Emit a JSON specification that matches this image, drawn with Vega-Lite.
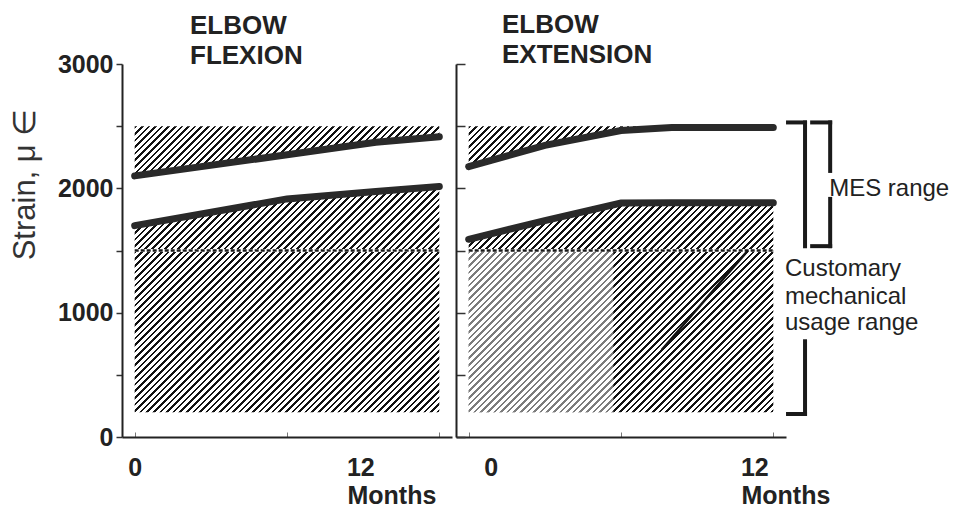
{
  "$schema": "https://vega.github.io/schema/vega-lite/v6.json",
  "padding": {"left": 8, "top": 12, "right": 0, "bottom": 0},
  "spacing": 0,
  "config": {
    "font": "Liberation Sans",
    "view": {"stroke": null}
  },
  "datasets": {
    "band": [{"from": 0, "to": 12, "low": 200, "high": 2500}],
    "threshold": [{"from": 0, "to": 12, "level": 1500}],
    "flexion": [
      {"month": 0, "lower": 1700, "upper": 2100},
      {"month": 6, "lower": 1915, "upper": 2270},
      {"month": 9.5, "lower": 1975, "upper": 2370},
      {"month": 12, "lower": 2015, "upper": 2415}
    ],
    "extension": [
      {"month": 0, "lower": 1590, "upper": 2175},
      {"month": 3, "lower": 1740, "upper": 2345},
      {"month": 6, "lower": 1882, "upper": 2465},
      {"month": 8, "lower": 1884, "upper": 2490},
      {"month": 12, "lower": 1884, "upper": 2490}
    ],
    "faded": [{"from": 0, "to": 5.7, "low": 200, "high": 1500}],
    "streak": [{"month": 7.6, "strain": 700}, {"month": 11.0, "strain": 1500}],
    "brackets": [
      {"x": 12.58, "x2": 13.25, "y": 2530, "y2": 2530},
      {"x": 13.25, "x2": 13.25, "y": 2530, "y2": 1535},
      {"x": 13.25, "x2": 13.25, "y": 770, "y2": 185},
      {"x": 12.58, "x2": 13.25, "y": 185, "y2": 185},
      {"x": 13.53, "x2": 14.24, "y": 2530, "y2": 2530},
      {"x": 14.24, "x2": 14.24, "y": 2530, "y2": 2140},
      {"x": 14.24, "x2": 14.24, "y": 1915, "y2": 1535},
      {"x": 13.53, "x2": 14.24, "y": 1535, "y2": 1535}
    ],
    "notes": [
      {"label": "MES range", "month": 14.2, "strain": 1940},
      {"label": "Customary", "month": 12.46, "strain": 1295},
      {"label": "mechanical", "month": 12.46, "strain": 1070},
      {"label": "usage range", "month": 12.46, "strain": 861}
    ]
  },
  "hconcat": [
    {
      "width": 330,
      "height": 373,
      "title": {"text": ["ELBOW", "FLEXION"], "anchor": "start", "frame": "group", "dx": 68, "fontSize": 26, "fontWeight": "bold", "color": "#222", "lineHeight": 30, "offset": -17},
      "layer": [
        {
          "data": {"name": "band"},
          "mark": {"type": "rect", "fill": {
          "gradient": "linear", "x1": 0, "y1": 0, "x2": 1.1516, "y2": 1.0813,
          "stops": [
{"offset":0,"color":"#111"},{"offset":0.004,"color":"#111"},{"offset":0.004,"color":"#fff"},{"offset":0.01,"color":"#fff"},
{"offset":0.01,"color":"#111"},{"offset":0.014,"color":"#111"},{"offset":0.014,"color":"#fff"},{"offset":0.02,"color":"#fff"},
{"offset":0.02,"color":"#111"},{"offset":0.024,"color":"#111"},{"offset":0.024,"color":"#fff"},{"offset":0.03,"color":"#fff"},
{"offset":0.03,"color":"#111"},{"offset":0.034,"color":"#111"},{"offset":0.034,"color":"#fff"},{"offset":0.04,"color":"#fff"},
{"offset":0.04,"color":"#111"},{"offset":0.044,"color":"#111"},{"offset":0.044,"color":"#fff"},{"offset":0.05,"color":"#fff"},
{"offset":0.05,"color":"#111"},{"offset":0.054,"color":"#111"},{"offset":0.054,"color":"#fff"},{"offset":0.06,"color":"#fff"},
{"offset":0.06,"color":"#111"},{"offset":0.064,"color":"#111"},{"offset":0.064,"color":"#fff"},{"offset":0.07,"color":"#fff"},
{"offset":0.07,"color":"#111"},{"offset":0.074,"color":"#111"},{"offset":0.074,"color":"#fff"},{"offset":0.08,"color":"#fff"},
{"offset":0.08,"color":"#111"},{"offset":0.084,"color":"#111"},{"offset":0.084,"color":"#fff"},{"offset":0.09,"color":"#fff"},
{"offset":0.09,"color":"#111"},{"offset":0.094,"color":"#111"},{"offset":0.094,"color":"#fff"},{"offset":0.1,"color":"#fff"},
{"offset":0.1,"color":"#111"},{"offset":0.104,"color":"#111"},{"offset":0.104,"color":"#fff"},{"offset":0.11,"color":"#fff"},
{"offset":0.11,"color":"#111"},{"offset":0.114,"color":"#111"},{"offset":0.114,"color":"#fff"},{"offset":0.12,"color":"#fff"},
{"offset":0.12,"color":"#111"},{"offset":0.124,"color":"#111"},{"offset":0.124,"color":"#fff"},{"offset":0.13,"color":"#fff"},
{"offset":0.13,"color":"#111"},{"offset":0.134,"color":"#111"},{"offset":0.134,"color":"#fff"},{"offset":0.14,"color":"#fff"},
{"offset":0.14,"color":"#111"},{"offset":0.144,"color":"#111"},{"offset":0.144,"color":"#fff"},{"offset":0.15,"color":"#fff"},
{"offset":0.15,"color":"#111"},{"offset":0.154,"color":"#111"},{"offset":0.154,"color":"#fff"},{"offset":0.16,"color":"#fff"},
{"offset":0.16,"color":"#111"},{"offset":0.164,"color":"#111"},{"offset":0.164,"color":"#fff"},{"offset":0.17,"color":"#fff"},
{"offset":0.17,"color":"#111"},{"offset":0.174,"color":"#111"},{"offset":0.174,"color":"#fff"},{"offset":0.18,"color":"#fff"},
{"offset":0.18,"color":"#111"},{"offset":0.184,"color":"#111"},{"offset":0.184,"color":"#fff"},{"offset":0.19,"color":"#fff"},
{"offset":0.19,"color":"#111"},{"offset":0.194,"color":"#111"},{"offset":0.194,"color":"#fff"},{"offset":0.2,"color":"#fff"},
{"offset":0.2,"color":"#111"},{"offset":0.204,"color":"#111"},{"offset":0.204,"color":"#fff"},{"offset":0.21,"color":"#fff"},
{"offset":0.21,"color":"#111"},{"offset":0.214,"color":"#111"},{"offset":0.214,"color":"#fff"},{"offset":0.22,"color":"#fff"},
{"offset":0.22,"color":"#111"},{"offset":0.224,"color":"#111"},{"offset":0.224,"color":"#fff"},{"offset":0.23,"color":"#fff"},
{"offset":0.23,"color":"#111"},{"offset":0.234,"color":"#111"},{"offset":0.234,"color":"#fff"},{"offset":0.24,"color":"#fff"},
{"offset":0.24,"color":"#111"},{"offset":0.244,"color":"#111"},{"offset":0.244,"color":"#fff"},{"offset":0.25,"color":"#fff"},
{"offset":0.25,"color":"#111"},{"offset":0.254,"color":"#111"},{"offset":0.254,"color":"#fff"},{"offset":0.26,"color":"#fff"},
{"offset":0.26,"color":"#111"},{"offset":0.264,"color":"#111"},{"offset":0.264,"color":"#fff"},{"offset":0.27,"color":"#fff"},
{"offset":0.27,"color":"#111"},{"offset":0.274,"color":"#111"},{"offset":0.274,"color":"#fff"},{"offset":0.28,"color":"#fff"},
{"offset":0.28,"color":"#111"},{"offset":0.284,"color":"#111"},{"offset":0.284,"color":"#fff"},{"offset":0.29,"color":"#fff"},
{"offset":0.29,"color":"#111"},{"offset":0.294,"color":"#111"},{"offset":0.294,"color":"#fff"},{"offset":0.3,"color":"#fff"},
{"offset":0.3,"color":"#111"},{"offset":0.304,"color":"#111"},{"offset":0.304,"color":"#fff"},{"offset":0.31,"color":"#fff"},
{"offset":0.31,"color":"#111"},{"offset":0.314,"color":"#111"},{"offset":0.314,"color":"#fff"},{"offset":0.32,"color":"#fff"},
{"offset":0.32,"color":"#111"},{"offset":0.324,"color":"#111"},{"offset":0.324,"color":"#fff"},{"offset":0.33,"color":"#fff"},
{"offset":0.33,"color":"#111"},{"offset":0.334,"color":"#111"},{"offset":0.334,"color":"#fff"},{"offset":0.34,"color":"#fff"},
{"offset":0.34,"color":"#111"},{"offset":0.344,"color":"#111"},{"offset":0.344,"color":"#fff"},{"offset":0.35,"color":"#fff"},
{"offset":0.35,"color":"#111"},{"offset":0.354,"color":"#111"},{"offset":0.354,"color":"#fff"},{"offset":0.36,"color":"#fff"},
{"offset":0.36,"color":"#111"},{"offset":0.364,"color":"#111"},{"offset":0.364,"color":"#fff"},{"offset":0.37,"color":"#fff"},
{"offset":0.37,"color":"#111"},{"offset":0.374,"color":"#111"},{"offset":0.374,"color":"#fff"},{"offset":0.38,"color":"#fff"},
{"offset":0.38,"color":"#111"},{"offset":0.384,"color":"#111"},{"offset":0.384,"color":"#fff"},{"offset":0.39,"color":"#fff"},
{"offset":0.39,"color":"#111"},{"offset":0.394,"color":"#111"},{"offset":0.394,"color":"#fff"},{"offset":0.4,"color":"#fff"},
{"offset":0.4,"color":"#111"},{"offset":0.404,"color":"#111"},{"offset":0.404,"color":"#fff"},{"offset":0.41,"color":"#fff"},
{"offset":0.41,"color":"#111"},{"offset":0.414,"color":"#111"},{"offset":0.414,"color":"#fff"},{"offset":0.42,"color":"#fff"},
{"offset":0.42,"color":"#111"},{"offset":0.424,"color":"#111"},{"offset":0.424,"color":"#fff"},{"offset":0.43,"color":"#fff"},
{"offset":0.43,"color":"#111"},{"offset":0.434,"color":"#111"},{"offset":0.434,"color":"#fff"},{"offset":0.44,"color":"#fff"},
{"offset":0.44,"color":"#111"},{"offset":0.444,"color":"#111"},{"offset":0.444,"color":"#fff"},{"offset":0.45,"color":"#fff"},
{"offset":0.45,"color":"#111"},{"offset":0.454,"color":"#111"},{"offset":0.454,"color":"#fff"},{"offset":0.46,"color":"#fff"},
{"offset":0.46,"color":"#111"},{"offset":0.464,"color":"#111"},{"offset":0.464,"color":"#fff"},{"offset":0.47,"color":"#fff"},
{"offset":0.47,"color":"#111"},{"offset":0.474,"color":"#111"},{"offset":0.474,"color":"#fff"},{"offset":0.48,"color":"#fff"},
{"offset":0.48,"color":"#111"},{"offset":0.484,"color":"#111"},{"offset":0.484,"color":"#fff"},{"offset":0.49,"color":"#fff"},
{"offset":0.49,"color":"#111"},{"offset":0.494,"color":"#111"},{"offset":0.494,"color":"#fff"},{"offset":0.5,"color":"#fff"},
{"offset":0.5,"color":"#111"},{"offset":0.504,"color":"#111"},{"offset":0.504,"color":"#fff"},{"offset":0.51,"color":"#fff"},
{"offset":0.51,"color":"#111"},{"offset":0.514,"color":"#111"},{"offset":0.514,"color":"#fff"},{"offset":0.52,"color":"#fff"},
{"offset":0.52,"color":"#111"},{"offset":0.524,"color":"#111"},{"offset":0.524,"color":"#fff"},{"offset":0.53,"color":"#fff"},
{"offset":0.53,"color":"#111"},{"offset":0.534,"color":"#111"},{"offset":0.534,"color":"#fff"},{"offset":0.54,"color":"#fff"},
{"offset":0.54,"color":"#111"},{"offset":0.544,"color":"#111"},{"offset":0.544,"color":"#fff"},{"offset":0.55,"color":"#fff"},
{"offset":0.55,"color":"#111"},{"offset":0.554,"color":"#111"},{"offset":0.554,"color":"#fff"},{"offset":0.56,"color":"#fff"},
{"offset":0.56,"color":"#111"},{"offset":0.564,"color":"#111"},{"offset":0.564,"color":"#fff"},{"offset":0.57,"color":"#fff"},
{"offset":0.57,"color":"#111"},{"offset":0.574,"color":"#111"},{"offset":0.574,"color":"#fff"},{"offset":0.58,"color":"#fff"},
{"offset":0.58,"color":"#111"},{"offset":0.584,"color":"#111"},{"offset":0.584,"color":"#fff"},{"offset":0.59,"color":"#fff"},
{"offset":0.59,"color":"#111"},{"offset":0.594,"color":"#111"},{"offset":0.594,"color":"#fff"},{"offset":0.6,"color":"#fff"},
{"offset":0.6,"color":"#111"},{"offset":0.604,"color":"#111"},{"offset":0.604,"color":"#fff"},{"offset":0.61,"color":"#fff"},
{"offset":0.61,"color":"#111"},{"offset":0.614,"color":"#111"},{"offset":0.614,"color":"#fff"},{"offset":0.62,"color":"#fff"},
{"offset":0.62,"color":"#111"},{"offset":0.624,"color":"#111"},{"offset":0.624,"color":"#fff"},{"offset":0.63,"color":"#fff"},
{"offset":0.63,"color":"#111"},{"offset":0.634,"color":"#111"},{"offset":0.634,"color":"#fff"},{"offset":0.64,"color":"#fff"},
{"offset":0.64,"color":"#111"},{"offset":0.644,"color":"#111"},{"offset":0.644,"color":"#fff"},{"offset":0.65,"color":"#fff"},
{"offset":0.65,"color":"#111"},{"offset":0.654,"color":"#111"},{"offset":0.654,"color":"#fff"},{"offset":0.66,"color":"#fff"},
{"offset":0.66,"color":"#111"},{"offset":0.664,"color":"#111"},{"offset":0.664,"color":"#fff"},{"offset":0.67,"color":"#fff"},
{"offset":0.67,"color":"#111"},{"offset":0.674,"color":"#111"},{"offset":0.674,"color":"#fff"},{"offset":0.68,"color":"#fff"},
{"offset":0.68,"color":"#111"},{"offset":0.684,"color":"#111"},{"offset":0.684,"color":"#fff"},{"offset":0.69,"color":"#fff"},
{"offset":0.69,"color":"#111"},{"offset":0.694,"color":"#111"},{"offset":0.694,"color":"#fff"},{"offset":0.7,"color":"#fff"},
{"offset":0.7,"color":"#111"},{"offset":0.704,"color":"#111"},{"offset":0.704,"color":"#fff"},{"offset":0.71,"color":"#fff"},
{"offset":0.71,"color":"#111"},{"offset":0.714,"color":"#111"},{"offset":0.714,"color":"#fff"},{"offset":0.72,"color":"#fff"},
{"offset":0.72,"color":"#111"},{"offset":0.724,"color":"#111"},{"offset":0.724,"color":"#fff"},{"offset":0.73,"color":"#fff"},
{"offset":0.73,"color":"#111"},{"offset":0.734,"color":"#111"},{"offset":0.734,"color":"#fff"},{"offset":0.74,"color":"#fff"},
{"offset":0.74,"color":"#111"},{"offset":0.744,"color":"#111"},{"offset":0.744,"color":"#fff"},{"offset":0.75,"color":"#fff"},
{"offset":0.75,"color":"#111"},{"offset":0.754,"color":"#111"},{"offset":0.754,"color":"#fff"},{"offset":0.76,"color":"#fff"},
{"offset":0.76,"color":"#111"},{"offset":0.764,"color":"#111"},{"offset":0.764,"color":"#fff"},{"offset":0.77,"color":"#fff"},
{"offset":0.77,"color":"#111"},{"offset":0.774,"color":"#111"},{"offset":0.774,"color":"#fff"},{"offset":0.78,"color":"#fff"},
{"offset":0.78,"color":"#111"},{"offset":0.784,"color":"#111"},{"offset":0.784,"color":"#fff"},{"offset":0.79,"color":"#fff"},
{"offset":0.79,"color":"#111"},{"offset":0.794,"color":"#111"},{"offset":0.794,"color":"#fff"},{"offset":0.8,"color":"#fff"},
{"offset":0.8,"color":"#111"},{"offset":0.804,"color":"#111"},{"offset":0.804,"color":"#fff"},{"offset":0.81,"color":"#fff"},
{"offset":0.81,"color":"#111"},{"offset":0.814,"color":"#111"},{"offset":0.814,"color":"#fff"},{"offset":0.82,"color":"#fff"},
{"offset":0.82,"color":"#111"},{"offset":0.824,"color":"#111"},{"offset":0.824,"color":"#fff"},{"offset":0.83,"color":"#fff"},
{"offset":0.83,"color":"#111"},{"offset":0.834,"color":"#111"},{"offset":0.834,"color":"#fff"},{"offset":0.84,"color":"#fff"},
{"offset":0.84,"color":"#111"},{"offset":0.844,"color":"#111"},{"offset":0.844,"color":"#fff"},{"offset":0.85,"color":"#fff"},
{"offset":0.85,"color":"#111"},{"offset":0.854,"color":"#111"},{"offset":0.854,"color":"#fff"},{"offset":0.86,"color":"#fff"},
{"offset":0.86,"color":"#111"},{"offset":0.864,"color":"#111"},{"offset":0.864,"color":"#fff"},{"offset":0.87,"color":"#fff"},
{"offset":0.87,"color":"#111"},{"offset":0.874,"color":"#111"},{"offset":0.874,"color":"#fff"},{"offset":0.88,"color":"#fff"},
{"offset":0.88,"color":"#111"},{"offset":0.884,"color":"#111"},{"offset":0.884,"color":"#fff"},{"offset":0.89,"color":"#fff"},
{"offset":0.89,"color":"#111"},{"offset":0.894,"color":"#111"},{"offset":0.894,"color":"#fff"},{"offset":0.9,"color":"#fff"}
          ]}},
          "encoding": {
            "x": {"field": "from", "type": "quantitative", "scale": {"domain": [-0.5, 12.5], "nice": false, "zero": false},
              "axis": {"title": "Months", "values": [0, 6, 12], "labelExpr": "datum.value == 6 ? '' : datum.label", "labelFlush": false, "labelOverlap": false,
                "labelFontSize": 25, "labelFontWeight": "bold", "labelColor": "#222", "labelPadding": 23,
                "labelOffset": {"condition": {"test": "datum.value == 12", "value": -79}, "value": 0},
                "tickSize": -5, "tickColor": "#777", "tickWidth": 1, "domainColor": "#222", "domainWidth": 2, "grid": false,
                "titleFontSize": 25, "titleFontWeight": "bold", "titleColor": "#222", "titleX": 225, "titleY": 66, "titleAlign": "left", "titleBaseline": "alphabetic"}},
            "x2": {"field": "to"},
            "y": {"field": "low", "type": "quantitative", "scale": {"domain": [0, 3000], "nice": false},
              "axis": {"title": "Strain, μ ∈", "values": [0, 500, 1000, 1500, 2000, 2500, 3000], "format": "d", "labelExpr": "datum.value % 1000 == 0 ? datum.label : ''",
                "labelFontSize": 25, "labelFontWeight": "bold", "labelColor": "#222", "labelPadding": 3, "tickSize": 6, "tickColor": "#333", "tickWidth": 1.5,
                "domainColor": "#222", "domainWidth": 2, "grid": false,
                "titleFontSize": 31, "titleFontWeight": "normal", "titleColor": "#333", "titleX": -88, "titleY": 120, "titleBaseline": "alphabetic", "titleAlign": "center", "titleAngle": -90}},
            "y2": {"field": "high"}
          }
        },
        {
          "data": {"name": "flexion"},
          "mark": {"type": "area", "color": "white", "stroke": "white", "strokeWidth": 1.5},
          "encoding": {"x": {"field": "month", "type": "quantitative"}, "y": {"field": "lower", "type": "quantitative"}, "y2": {"field": "upper"}}
        },
        {
          "data": {"name": "threshold"},
          "mark": {"type": "rule", "color": "white", "strokeWidth": 3},
          "encoding": {"x": {"field": "from", "type": "quantitative"}, "x2": {"field": "to"}, "y": {"field": "level", "type": "quantitative"}}
        },
        {
          "data": {"name": "threshold"},
          "mark": {"type": "rule", "color": "#1a1a1a", "strokeWidth": 2.5, "strokeDash": [4, 2]},
          "encoding": {"x": {"field": "from", "type": "quantitative"}, "x2": {"field": "to"}, "y": {"field": "level", "type": "quantitative"}}
        },
        {
          "data": {"name": "flexion"},
          "mark": {"type": "line", "color": "#2a2a2a", "strokeWidth": 7, "strokeCap": "round"},
          "encoding": {"x": {"field": "month", "type": "quantitative"}, "y": {"field": "lower", "type": "quantitative"}}
        },
        {
          "data": {"name": "flexion"},
          "mark": {"type": "line", "color": "#2a2a2a", "strokeWidth": 7, "strokeCap": "round"},
          "encoding": {"x": {"field": "month", "type": "quantitative"}, "y": {"field": "upper", "type": "quantitative"}}
        }
      ]
    },
    {
      "width": 330,
      "height": 373,
      "title": {"text": ["ELBOW", "EXTENSION"], "anchor": "start", "frame": "group", "dx": 46, "fontSize": 26, "fontWeight": "bold", "color": "#222", "lineHeight": 30, "offset": -5},
      "layer": [
        {
          "data": {"name": "band"},
          "mark": {"type": "rect", "fill": {
          "gradient": "linear", "x1": 0, "y1": 0, "x2": 1.1516, "y2": 1.0813,
          "stops": [
{"offset":0,"color":"#111"},{"offset":0.004,"color":"#111"},{"offset":0.004,"color":"#fff"},{"offset":0.01,"color":"#fff"},
{"offset":0.01,"color":"#111"},{"offset":0.014,"color":"#111"},{"offset":0.014,"color":"#fff"},{"offset":0.02,"color":"#fff"},
{"offset":0.02,"color":"#111"},{"offset":0.024,"color":"#111"},{"offset":0.024,"color":"#fff"},{"offset":0.03,"color":"#fff"},
{"offset":0.03,"color":"#111"},{"offset":0.034,"color":"#111"},{"offset":0.034,"color":"#fff"},{"offset":0.04,"color":"#fff"},
{"offset":0.04,"color":"#111"},{"offset":0.044,"color":"#111"},{"offset":0.044,"color":"#fff"},{"offset":0.05,"color":"#fff"},
{"offset":0.05,"color":"#111"},{"offset":0.054,"color":"#111"},{"offset":0.054,"color":"#fff"},{"offset":0.06,"color":"#fff"},
{"offset":0.06,"color":"#111"},{"offset":0.064,"color":"#111"},{"offset":0.064,"color":"#fff"},{"offset":0.07,"color":"#fff"},
{"offset":0.07,"color":"#111"},{"offset":0.074,"color":"#111"},{"offset":0.074,"color":"#fff"},{"offset":0.08,"color":"#fff"},
{"offset":0.08,"color":"#111"},{"offset":0.084,"color":"#111"},{"offset":0.084,"color":"#fff"},{"offset":0.09,"color":"#fff"},
{"offset":0.09,"color":"#111"},{"offset":0.094,"color":"#111"},{"offset":0.094,"color":"#fff"},{"offset":0.1,"color":"#fff"},
{"offset":0.1,"color":"#111"},{"offset":0.104,"color":"#111"},{"offset":0.104,"color":"#fff"},{"offset":0.11,"color":"#fff"},
{"offset":0.11,"color":"#111"},{"offset":0.114,"color":"#111"},{"offset":0.114,"color":"#fff"},{"offset":0.12,"color":"#fff"},
{"offset":0.12,"color":"#111"},{"offset":0.124,"color":"#111"},{"offset":0.124,"color":"#fff"},{"offset":0.13,"color":"#fff"},
{"offset":0.13,"color":"#111"},{"offset":0.134,"color":"#111"},{"offset":0.134,"color":"#fff"},{"offset":0.14,"color":"#fff"},
{"offset":0.14,"color":"#111"},{"offset":0.144,"color":"#111"},{"offset":0.144,"color":"#fff"},{"offset":0.15,"color":"#fff"},
{"offset":0.15,"color":"#111"},{"offset":0.154,"color":"#111"},{"offset":0.154,"color":"#fff"},{"offset":0.16,"color":"#fff"},
{"offset":0.16,"color":"#111"},{"offset":0.164,"color":"#111"},{"offset":0.164,"color":"#fff"},{"offset":0.17,"color":"#fff"},
{"offset":0.17,"color":"#111"},{"offset":0.174,"color":"#111"},{"offset":0.174,"color":"#fff"},{"offset":0.18,"color":"#fff"},
{"offset":0.18,"color":"#111"},{"offset":0.184,"color":"#111"},{"offset":0.184,"color":"#fff"},{"offset":0.19,"color":"#fff"},
{"offset":0.19,"color":"#111"},{"offset":0.194,"color":"#111"},{"offset":0.194,"color":"#fff"},{"offset":0.2,"color":"#fff"},
{"offset":0.2,"color":"#111"},{"offset":0.204,"color":"#111"},{"offset":0.204,"color":"#fff"},{"offset":0.21,"color":"#fff"},
{"offset":0.21,"color":"#111"},{"offset":0.214,"color":"#111"},{"offset":0.214,"color":"#fff"},{"offset":0.22,"color":"#fff"},
{"offset":0.22,"color":"#111"},{"offset":0.224,"color":"#111"},{"offset":0.224,"color":"#fff"},{"offset":0.23,"color":"#fff"},
{"offset":0.23,"color":"#111"},{"offset":0.234,"color":"#111"},{"offset":0.234,"color":"#fff"},{"offset":0.24,"color":"#fff"},
{"offset":0.24,"color":"#111"},{"offset":0.244,"color":"#111"},{"offset":0.244,"color":"#fff"},{"offset":0.25,"color":"#fff"},
{"offset":0.25,"color":"#111"},{"offset":0.254,"color":"#111"},{"offset":0.254,"color":"#fff"},{"offset":0.26,"color":"#fff"},
{"offset":0.26,"color":"#111"},{"offset":0.264,"color":"#111"},{"offset":0.264,"color":"#fff"},{"offset":0.27,"color":"#fff"},
{"offset":0.27,"color":"#111"},{"offset":0.274,"color":"#111"},{"offset":0.274,"color":"#fff"},{"offset":0.28,"color":"#fff"},
{"offset":0.28,"color":"#111"},{"offset":0.284,"color":"#111"},{"offset":0.284,"color":"#fff"},{"offset":0.29,"color":"#fff"},
{"offset":0.29,"color":"#111"},{"offset":0.294,"color":"#111"},{"offset":0.294,"color":"#fff"},{"offset":0.3,"color":"#fff"},
{"offset":0.3,"color":"#111"},{"offset":0.304,"color":"#111"},{"offset":0.304,"color":"#fff"},{"offset":0.31,"color":"#fff"},
{"offset":0.31,"color":"#111"},{"offset":0.314,"color":"#111"},{"offset":0.314,"color":"#fff"},{"offset":0.32,"color":"#fff"},
{"offset":0.32,"color":"#111"},{"offset":0.324,"color":"#111"},{"offset":0.324,"color":"#fff"},{"offset":0.33,"color":"#fff"},
{"offset":0.33,"color":"#111"},{"offset":0.334,"color":"#111"},{"offset":0.334,"color":"#fff"},{"offset":0.34,"color":"#fff"},
{"offset":0.34,"color":"#111"},{"offset":0.344,"color":"#111"},{"offset":0.344,"color":"#fff"},{"offset":0.35,"color":"#fff"},
{"offset":0.35,"color":"#111"},{"offset":0.354,"color":"#111"},{"offset":0.354,"color":"#fff"},{"offset":0.36,"color":"#fff"},
{"offset":0.36,"color":"#111"},{"offset":0.364,"color":"#111"},{"offset":0.364,"color":"#fff"},{"offset":0.37,"color":"#fff"},
{"offset":0.37,"color":"#111"},{"offset":0.374,"color":"#111"},{"offset":0.374,"color":"#fff"},{"offset":0.38,"color":"#fff"},
{"offset":0.38,"color":"#111"},{"offset":0.384,"color":"#111"},{"offset":0.384,"color":"#fff"},{"offset":0.39,"color":"#fff"},
{"offset":0.39,"color":"#111"},{"offset":0.394,"color":"#111"},{"offset":0.394,"color":"#fff"},{"offset":0.4,"color":"#fff"},
{"offset":0.4,"color":"#111"},{"offset":0.404,"color":"#111"},{"offset":0.404,"color":"#fff"},{"offset":0.41,"color":"#fff"},
{"offset":0.41,"color":"#111"},{"offset":0.414,"color":"#111"},{"offset":0.414,"color":"#fff"},{"offset":0.42,"color":"#fff"},
{"offset":0.42,"color":"#111"},{"offset":0.424,"color":"#111"},{"offset":0.424,"color":"#fff"},{"offset":0.43,"color":"#fff"},
{"offset":0.43,"color":"#111"},{"offset":0.434,"color":"#111"},{"offset":0.434,"color":"#fff"},{"offset":0.44,"color":"#fff"},
{"offset":0.44,"color":"#111"},{"offset":0.444,"color":"#111"},{"offset":0.444,"color":"#fff"},{"offset":0.45,"color":"#fff"},
{"offset":0.45,"color":"#111"},{"offset":0.454,"color":"#111"},{"offset":0.454,"color":"#fff"},{"offset":0.46,"color":"#fff"},
{"offset":0.46,"color":"#111"},{"offset":0.464,"color":"#111"},{"offset":0.464,"color":"#fff"},{"offset":0.47,"color":"#fff"},
{"offset":0.47,"color":"#111"},{"offset":0.474,"color":"#111"},{"offset":0.474,"color":"#fff"},{"offset":0.48,"color":"#fff"},
{"offset":0.48,"color":"#111"},{"offset":0.484,"color":"#111"},{"offset":0.484,"color":"#fff"},{"offset":0.49,"color":"#fff"},
{"offset":0.49,"color":"#111"},{"offset":0.494,"color":"#111"},{"offset":0.494,"color":"#fff"},{"offset":0.5,"color":"#fff"},
{"offset":0.5,"color":"#111"},{"offset":0.504,"color":"#111"},{"offset":0.504,"color":"#fff"},{"offset":0.51,"color":"#fff"},
{"offset":0.51,"color":"#111"},{"offset":0.514,"color":"#111"},{"offset":0.514,"color":"#fff"},{"offset":0.52,"color":"#fff"},
{"offset":0.52,"color":"#111"},{"offset":0.524,"color":"#111"},{"offset":0.524,"color":"#fff"},{"offset":0.53,"color":"#fff"},
{"offset":0.53,"color":"#111"},{"offset":0.534,"color":"#111"},{"offset":0.534,"color":"#fff"},{"offset":0.54,"color":"#fff"},
{"offset":0.54,"color":"#111"},{"offset":0.544,"color":"#111"},{"offset":0.544,"color":"#fff"},{"offset":0.55,"color":"#fff"},
{"offset":0.55,"color":"#111"},{"offset":0.554,"color":"#111"},{"offset":0.554,"color":"#fff"},{"offset":0.56,"color":"#fff"},
{"offset":0.56,"color":"#111"},{"offset":0.564,"color":"#111"},{"offset":0.564,"color":"#fff"},{"offset":0.57,"color":"#fff"},
{"offset":0.57,"color":"#111"},{"offset":0.574,"color":"#111"},{"offset":0.574,"color":"#fff"},{"offset":0.58,"color":"#fff"},
{"offset":0.58,"color":"#111"},{"offset":0.584,"color":"#111"},{"offset":0.584,"color":"#fff"},{"offset":0.59,"color":"#fff"},
{"offset":0.59,"color":"#111"},{"offset":0.594,"color":"#111"},{"offset":0.594,"color":"#fff"},{"offset":0.6,"color":"#fff"},
{"offset":0.6,"color":"#111"},{"offset":0.604,"color":"#111"},{"offset":0.604,"color":"#fff"},{"offset":0.61,"color":"#fff"},
{"offset":0.61,"color":"#111"},{"offset":0.614,"color":"#111"},{"offset":0.614,"color":"#fff"},{"offset":0.62,"color":"#fff"},
{"offset":0.62,"color":"#111"},{"offset":0.624,"color":"#111"},{"offset":0.624,"color":"#fff"},{"offset":0.63,"color":"#fff"},
{"offset":0.63,"color":"#111"},{"offset":0.634,"color":"#111"},{"offset":0.634,"color":"#fff"},{"offset":0.64,"color":"#fff"},
{"offset":0.64,"color":"#111"},{"offset":0.644,"color":"#111"},{"offset":0.644,"color":"#fff"},{"offset":0.65,"color":"#fff"},
{"offset":0.65,"color":"#111"},{"offset":0.654,"color":"#111"},{"offset":0.654,"color":"#fff"},{"offset":0.66,"color":"#fff"},
{"offset":0.66,"color":"#111"},{"offset":0.664,"color":"#111"},{"offset":0.664,"color":"#fff"},{"offset":0.67,"color":"#fff"},
{"offset":0.67,"color":"#111"},{"offset":0.674,"color":"#111"},{"offset":0.674,"color":"#fff"},{"offset":0.68,"color":"#fff"},
{"offset":0.68,"color":"#111"},{"offset":0.684,"color":"#111"},{"offset":0.684,"color":"#fff"},{"offset":0.69,"color":"#fff"},
{"offset":0.69,"color":"#111"},{"offset":0.694,"color":"#111"},{"offset":0.694,"color":"#fff"},{"offset":0.7,"color":"#fff"},
{"offset":0.7,"color":"#111"},{"offset":0.704,"color":"#111"},{"offset":0.704,"color":"#fff"},{"offset":0.71,"color":"#fff"},
{"offset":0.71,"color":"#111"},{"offset":0.714,"color":"#111"},{"offset":0.714,"color":"#fff"},{"offset":0.72,"color":"#fff"},
{"offset":0.72,"color":"#111"},{"offset":0.724,"color":"#111"},{"offset":0.724,"color":"#fff"},{"offset":0.73,"color":"#fff"},
{"offset":0.73,"color":"#111"},{"offset":0.734,"color":"#111"},{"offset":0.734,"color":"#fff"},{"offset":0.74,"color":"#fff"},
{"offset":0.74,"color":"#111"},{"offset":0.744,"color":"#111"},{"offset":0.744,"color":"#fff"},{"offset":0.75,"color":"#fff"},
{"offset":0.75,"color":"#111"},{"offset":0.754,"color":"#111"},{"offset":0.754,"color":"#fff"},{"offset":0.76,"color":"#fff"},
{"offset":0.76,"color":"#111"},{"offset":0.764,"color":"#111"},{"offset":0.764,"color":"#fff"},{"offset":0.77,"color":"#fff"},
{"offset":0.77,"color":"#111"},{"offset":0.774,"color":"#111"},{"offset":0.774,"color":"#fff"},{"offset":0.78,"color":"#fff"},
{"offset":0.78,"color":"#111"},{"offset":0.784,"color":"#111"},{"offset":0.784,"color":"#fff"},{"offset":0.79,"color":"#fff"},
{"offset":0.79,"color":"#111"},{"offset":0.794,"color":"#111"},{"offset":0.794,"color":"#fff"},{"offset":0.8,"color":"#fff"},
{"offset":0.8,"color":"#111"},{"offset":0.804,"color":"#111"},{"offset":0.804,"color":"#fff"},{"offset":0.81,"color":"#fff"},
{"offset":0.81,"color":"#111"},{"offset":0.814,"color":"#111"},{"offset":0.814,"color":"#fff"},{"offset":0.82,"color":"#fff"},
{"offset":0.82,"color":"#111"},{"offset":0.824,"color":"#111"},{"offset":0.824,"color":"#fff"},{"offset":0.83,"color":"#fff"},
{"offset":0.83,"color":"#111"},{"offset":0.834,"color":"#111"},{"offset":0.834,"color":"#fff"},{"offset":0.84,"color":"#fff"},
{"offset":0.84,"color":"#111"},{"offset":0.844,"color":"#111"},{"offset":0.844,"color":"#fff"},{"offset":0.85,"color":"#fff"},
{"offset":0.85,"color":"#111"},{"offset":0.854,"color":"#111"},{"offset":0.854,"color":"#fff"},{"offset":0.86,"color":"#fff"},
{"offset":0.86,"color":"#111"},{"offset":0.864,"color":"#111"},{"offset":0.864,"color":"#fff"},{"offset":0.87,"color":"#fff"},
{"offset":0.87,"color":"#111"},{"offset":0.874,"color":"#111"},{"offset":0.874,"color":"#fff"},{"offset":0.88,"color":"#fff"},
{"offset":0.88,"color":"#111"},{"offset":0.884,"color":"#111"},{"offset":0.884,"color":"#fff"},{"offset":0.89,"color":"#fff"},
{"offset":0.89,"color":"#111"},{"offset":0.894,"color":"#111"},{"offset":0.894,"color":"#fff"},{"offset":0.9,"color":"#fff"}
          ]}},
          "encoding": {
            "x": {"field": "from", "type": "quantitative", "scale": {"domain": [-0.5, 12.5], "nice": false, "zero": false},
              "axis": {"title": "Months", "values": [0, 6, 12], "labelExpr": "datum.value == 6 ? '' : datum.label", "labelFlush": false, "labelOverlap": false,
                "labelFontSize": 25, "labelFontWeight": "bold", "labelColor": "#222", "labelPadding": 23,
                "labelOffset": {"condition": {"test": "datum.value == 12", "value": -19}, "value": 22},
                "tickSize": -5, "tickColor": "#777", "tickWidth": 1, "domainColor": "#222", "domainWidth": 2, "grid": false,
                "titleFontSize": 25, "titleFontWeight": "bold", "titleColor": "#222", "titleX": 285, "titleY": 66, "titleAlign": "left", "titleBaseline": "alphabetic"}},
            "x2": {"field": "to"},
            "y": {"field": "low", "type": "quantitative", "scale": {"domain": [0, 3000], "nice": false},
              "axis": {"title": null, "labels": false, "values": [0, 500, 1000, 1500, 2000, 2500, 3000], "tickSize": -9, "tickColor": "#333", "tickWidth": 1.5,
                "domainColor": "#222", "domainWidth": 2, "grid": false}},
            "y2": {"field": "high"}
          }
        },
        {
          "data": {"name": "faded"},
          "mark": {"type": "rect", "color": "white", "opacity": 0.45},
          "encoding": {"x": {"field": "from", "type": "quantitative"}, "x2": {"field": "to"}, "y": {"field": "low", "type": "quantitative"}, "y2": {"field": "high"}}
        },
        {
          "data": {"name": "extension"},
          "mark": {"type": "area", "color": "white", "stroke": "white", "strokeWidth": 1.5},
          "encoding": {"x": {"field": "month", "type": "quantitative"}, "y": {"field": "lower", "type": "quantitative"}, "y2": {"field": "upper"}}
        },
        {
          "data": {"name": "threshold"},
          "mark": {"type": "rule", "color": "white", "strokeWidth": 3},
          "encoding": {"x": {"field": "from", "type": "quantitative"}, "x2": {"field": "to"}, "y": {"field": "level", "type": "quantitative"}}
        },
        {
          "data": {"name": "threshold"},
          "mark": {"type": "rule", "color": "#1a1a1a", "strokeWidth": 2.5, "strokeDash": [4, 2]},
          "encoding": {"x": {"field": "from", "type": "quantitative"}, "x2": {"field": "to"}, "y": {"field": "level", "type": "quantitative"}}
        },
        {
          "data": {"name": "streak"},
          "mark": {"type": "line", "color": "#111", "strokeWidth": 2.5},
          "encoding": {"x": {"field": "month", "type": "quantitative"}, "y": {"field": "strain", "type": "quantitative"}}
        },
        {
          "data": {"name": "extension"},
          "mark": {"type": "line", "color": "#2a2a2a", "strokeWidth": 7, "strokeCap": "round"},
          "encoding": {"x": {"field": "month", "type": "quantitative"}, "y": {"field": "lower", "type": "quantitative"}}
        },
        {
          "data": {"name": "extension"},
          "mark": {"type": "line", "color": "#2a2a2a", "strokeWidth": 7, "strokeCap": "round"},
          "encoding": {"x": {"field": "month", "type": "quantitative"}, "y": {"field": "upper", "type": "quantitative"}}
        },
        {
          "data": {"name": "brackets"},
          "mark": {"type": "rule", "color": "#1a1a1a", "strokeWidth": 4, "strokeCap": "square"},
          "encoding": {"x": {"field": "x", "type": "quantitative"}, "x2": {"field": "x2"}, "y": {"field": "y", "type": "quantitative"}, "y2": {"field": "y2"}}
        },
        {
          "data": {"name": "notes"},
          "mark": {"type": "text", "align": "left", "baseline": "alphabetic", "fontSize": 24, "color": "#222"},
          "encoding": {"x": {"field": "month", "type": "quantitative"}, "y": {"field": "strain", "type": "quantitative"}, "text": {"field": "label"}}
        }
      ]
    }
  ]
}
